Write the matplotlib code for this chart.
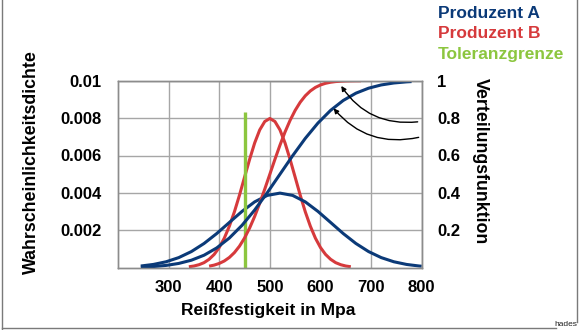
import matplotlib.pyplot as plt
from matplotlib.lines import Line2D

plt.rcParams['font.family'] = ['Liberation Sans', 'DejaVu Sans']
plt.rcParams['font.weight'] = 'bold'

# --- Daten ---
# Produzent A: Dichte
a_pdf_x = [245, 270, 295, 320, 345, 370, 395, 420, 445, 470, 495, 520,
           545, 570, 595, 620, 645, 670, 695, 720, 745, 770, 795, 800]
a_pdf_y = [0.00009, 0.000175, 0.000317, 0.00054, 0.000863, 0.001295, 0.001826,
           0.00242, 0.003011, 0.003521, 0.003866, 0.003989, 0.003866, 0.003521,
           0.003011, 0.00242, 0.001826, 0.001295, 0.000863, 0.00054, 0.000317,
           0.000175, 0.00009, 0.00008]
# Produzent A: Verteilungsfunktion
a_cdf_x = [245, 270, 295, 320, 345, 370, 395, 420, 445, 470, 495, 520,
           545, 570, 595, 620, 645, 670, 695, 720, 745, 770, 780]
a_cdf_y = [0.003, 0.0062, 0.0122, 0.0228, 0.0401, 0.0668, 0.1057, 0.1587,
           0.2266, 0.3085, 0.4013, 0.5, 0.5987, 0.6915, 0.7734, 0.8413, 0.8944,
           0.9332, 0.9599, 0.9773, 0.9878, 0.9938, 0.9953]
# Produzent B: Dichte
b_pdf_x = [340, 350, 360, 370, 380, 390, 400, 410, 420, 430, 440, 450, 460,
           470, 480, 490, 500, 510, 520, 530, 540, 550, 560, 570, 580, 590,
           600, 610, 620, 630, 640, 650, 660]
b_pdf_y = [0.00005, 0.00009, 0.00016, 0.00027, 0.00045, 0.00071, 0.00108,
           0.00158, 0.00222, 0.00299, 0.00388, 0.00484, 0.00579, 0.00667,
           0.00737, 0.00782, 0.00798, 0.00782, 0.00737, 0.00667, 0.00579,
           0.00484, 0.00388, 0.00299, 0.00222, 0.00158, 0.00108, 0.00071,
           0.00045, 0.00027, 0.00016, 0.00009, 0.00005]
# Produzent B: Verteilungsfunktion
b_cdf_x = [380, 390, 400, 410, 420, 430, 440, 450, 460, 470, 480, 490, 500,
           510, 520, 530, 540, 550, 560, 570, 580, 590, 600, 610, 620, 630,
           640, 650, 660, 670, 680]
b_cdf_y = [0.0082, 0.0139, 0.0228, 0.0359, 0.0548, 0.0808, 0.1151, 0.1587,
           0.2119, 0.2743, 0.3446, 0.4207, 0.5, 0.5793, 0.6554, 0.7257, 0.7881,
           0.8413, 0.8849, 0.9192, 0.9452, 0.9641, 0.9772, 0.9861, 0.9918,
           0.9953, 0.9974, 0.9987, 0.9993, 0.9997, 0.9998]
# Toleranzgrenze
toleranz_x = 450
toleranz_hoehe = 0.0083

x_ticks = [300, 400, 500, 600, 700, 800]
pdf_ticks = [0.002, 0.004, 0.006, 0.008, 0.01]
pdf_labels = ['0.002', '0.004', '0.006', '0.008', '0.01']
cdf_ticks = [0.2, 0.4, 0.6, 0.8, 1.0]
cdf_labels = ['0.2', '0.4', '0.6', '0.8', '1']

blau = '#0b3a78'
rot = '#d63a3c'
gruen = '#8cc63f'
grau = '#a6a6a6'

W, H = 588, 330
fig = plt.figure(figsize=(W / 100, H / 100), dpi=100)
ax = fig.add_axes([118 / W, 1 - 267.7 / H, (421.7 - 118) / W, (267.7 - 80.7) / H])
ax2 = ax.twinx()

ax.set_xlim(200, 800)
ax.set_ylim(0, 0.01)
ax2.set_ylim(0, 1)

ax.set_xticks(x_ticks)
ax.set_yticks(pdf_ticks)
ax.set_yticklabels(pdf_labels)
ax2.set_yticks(cdf_ticks)
ax2.set_yticklabels(cdf_labels)
ax.grid(True, color=grau, lw=1)
ax.set_axisbelow(True)
ax.tick_params(axis='x', length=0, pad=9, labelsize=12)
ax.tick_params(axis='y', length=0, pad=12, labelsize=12)
ax2.tick_params(axis='y', length=0, pad=11, labelsize=12)
for a in (ax, ax2):
    for s in a.spines.values():
        s.set_color('#8c8c8c')
        s.set_linewidth(1)

ax.plot(b_pdf_x, b_pdf_y, color=rot, lw=2.2, solid_capstyle='butt')
ax.plot(a_pdf_x, a_pdf_y, color=blau, lw=2.2, solid_capstyle='butt')
ax2.plot(b_cdf_x, b_cdf_y, color=rot, lw=2.2, solid_capstyle='butt')
ax2.plot(a_cdf_x, a_cdf_y, color=blau, lw=2.2, solid_capstyle='butt')
ax.plot([toleranz_x, toleranz_x], [0, toleranz_hoehe], color=gruen, lw=2.4,
        solid_capstyle='butt')

# Pfeile auf die Verteilungsfunktionen
pfeil = dict(arrowstyle='-|>', connectionstyle='arc3,rad=-0.3', color='black',
             lw=1, mutation_scale=7, shrinkA=0, shrinkB=0)
ax2.annotate('', xy=(641, 0.972), xytext=(792, 0.78), arrowprops=pfeil)
ax2.annotate('', xy=(626, 0.852), xytext=(794, 0.697), arrowprops=pfeil)

# Achsenbeschriftungen
fig.text(31 / W, 1 - 162 / H, 'Wahrscheinlichkeitsdichte', rotation=90,
         ha='center', va='center', fontsize=12.8)
fig.text(480 / W, 1 - 161 / H, 'Verteilungsfunktion', rotation=270,
         ha='center', va='center', fontsize=12.8)
fig.text(268 / W, 1 - 311 / H, 'Reißfestigkeit in Mpa', ha='center',
         va='center', fontsize=12.5)

# Legende
for y, txt, c in [(14, 'Produzent A', blau), (34, 'Produzent B', rot),
                  (54, 'Toleranzgrenze', gruen)]:
    fig.text(438 / W, 1 - y / H, txt, color=c, ha='left', va='center',
             fontsize=12.5)

# Rahmen
rahmen = '#7a7a7a'
fig.add_artist(Line2D([2 / W, 2 / W], [0, 1 - 0 / H], color=rahmen, lw=1,
                      transform=fig.transFigure))
fig.add_artist(Line2D([2 / W, 556 / W], [1 - 328 / H, 1 - 328 / H],
                      color=rahmen, lw=1, transform=fig.transFigure))
fig.add_artist(Line2D([577 / W, 577 / W], [1 - 322 / H, 1], color=rahmen,
                      lw=1, transform=fig.transFigure))
fig.text(566 / W, 1 - 325 / H, 'hades', fontsize=6, fontweight='normal',
         ha='center', va='center', color='#222222')

fig.savefig('out.png', dpi=100)
